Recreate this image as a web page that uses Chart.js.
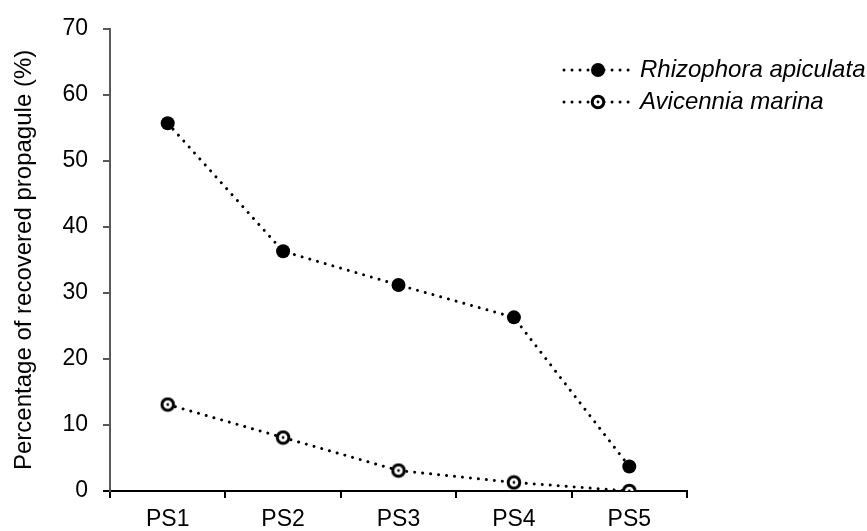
<!DOCTYPE html>
<html lang="en">
<head>
<meta charset="UTF-8">
<title>Recovered propagule</title>
<script src="https://cdn.jsdelivr.net/npm/chart.js@4"></script>
<style>
    html, body { margin: 0; padding: 0; background: #fff; }
    .chart-box { position: relative; width: 867px; height: 531px; }
</style>
</head>
<body>
<div class="chart-box"><canvas id="propaguleChart"></canvas></div>
<script>
// values
const sites = ['PS1', 'PS2', 'PS3', 'PS4', 'PS5'];
const rhizophora = [55.7, 36.3, 31.2, 26.3, 3.7];
const avicennia = [13.1, 8.1, 3.1, 1.3, 0];
const yTicks = [0, 10, 20, 30, 40, 50, 60, 70];
const seriesNames = ['Rhizophora apiculata', 'Avicennia marina'];

const FONT = 'Liberation Sans';

// open marker: white ring with a small dot in the middle
function ringMarker() {
    const c = document.createElement('canvas');
    c.width = 16; c.height = 16;
    const g = c.getContext('2d');
    g.fillStyle = '#fff';
    g.strokeStyle = '#000';
    g.lineWidth = 3;
    g.beginPath(); g.arc(8, 8, 5.8, 0, Math.PI * 2); g.fill(); g.stroke();
    g.fillStyle = '#000';
    g.beginPath(); g.arc(8, 8, 1.4, 0, Math.PI * 2); g.fill();
    return c;
}
const ring = ringMarker();

// legend drawn by hand so it can sit at top right like the original
const sideLegend = {
    id: 'sideLegend',
    afterDraw(chart) {
        const ctx = chart.ctx;
        const rows = [70, 102];
        ctx.save();
        chart.data.datasets.forEach((ds, i) => {
            const y = rows[i];
            ctx.strokeStyle = '#000';
            ctx.lineWidth = 3;
            ctx.lineCap = 'round';
            ctx.setLineDash([0.01, 8]);
            ctx.beginPath(); ctx.moveTo(564, y); ctx.lineTo(632, y); ctx.stroke();
            ctx.setLineDash([]);
            if (ds.pointStyle === 'circle') {
                ctx.fillStyle = '#000';
                ctx.beginPath(); ctx.arc(598, y, 7, 0, Math.PI * 2); ctx.fill();
            } else {
                ctx.drawImage(ds.pointStyle, 598 - 8, y - 8);
            }
            ctx.fillStyle = '#000';
            ctx.font = 'italic 24px "' + FONT + '"';
            ctx.textBaseline = 'middle';
            ctx.fillText(ds.label, 640, y);
        });
        ctx.restore();
    }
};

const lineBase = {
    borderColor: '#000',
    borderWidth: 3,
    borderDash: [0.01, 8],
    borderCapStyle: 'round',
    fill: false,
    tension: 0
};

new Chart(document.getElementById('propaguleChart'), {
    type: 'line',
    data: {
        labels: sites,
        datasets: [
            Object.assign({}, lineBase, {
                label: seriesNames[0],
                data: rhizophora,
                pointStyle: 'circle',
                pointRadius: 7,
                pointBackgroundColor: '#000',
                pointBorderWidth: 0
            }),
            Object.assign({}, lineBase, {
                label: seriesNames[1],
                data: avicennia,
                pointStyle: ring,
                pointRadius: 7
            })
        ]
    },
    options: {
        responsive: true,
        maintainAspectRatio: false,
        animation: false,
        layout: { autoPadding: false, padding: { top: 21, right: 180, left: 6, bottom: 0 } },
        plugins: { legend: { display: false }, tooltip: { enabled: false } },
        scales: {
            x: {
                offset: true,
                grid: { offset: true, drawOnChartArea: false, tickLength: 7, color: '#000', lineWidth: 2 },
                border: { color: '#000', width: 2 },
                ticks: { color: '#000', font: { family: FONT, size: 23 }, padding: 8, maxRotation: 0 },
                afterFit: s => { s.height = 40; }
            },
            y: {
                min: 0,
                max: 70,
                afterBuildTicks: s => { s.ticks = yTicks.map(v => ({ value: v })); },
                grid: {
                    drawOnChartArea: false,
                    tickLength: 7,
                    lineWidth: 2,
                    color: c => (c.tick && c.tick.value === 0 ? '#000' : '#595959')
                },
                border: { color: '#595959', width: 2 },
                ticks: { color: '#000', font: { family: FONT, size: 23 }, padding: 15 },
                title: {
                    display: true,
                    text: 'Percentage of recovered propagule (%)',
                    color: '#000',
                    font: { family: FONT, size: 24 },
                    padding: { top: 4, bottom: 0 }
                },
                afterFit: s => { s.width = 104; }
            }
        }
    },
    plugins: [sideLegend]
});
</script>
</body>
</html>
